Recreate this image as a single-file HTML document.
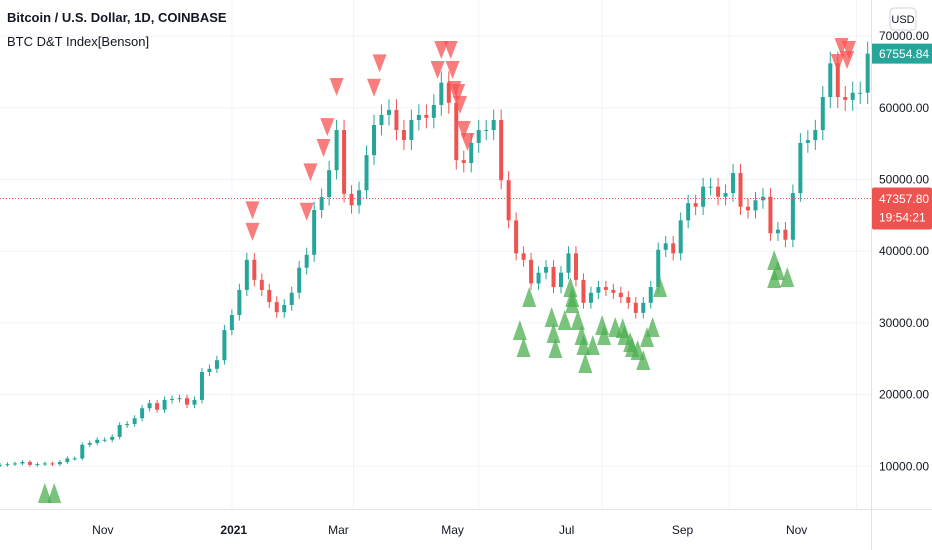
<!DOCTYPE html>
<html><head><meta charset="utf-8"><style>
html,body{margin:0;padding:0;background:#fff;}
svg{display:block;font-family:"Liberation Sans",sans-serif;}
</style></head><body>
<svg id="chart" width="932" height="550" viewBox="0 0 932 550" xmlns="http://www.w3.org/2000/svg">
<g id="grid"></g>
<g id="candles"></g>
<g id="signals"></g>
<g id="axes"></g>
<text x="7" y="22" font-size="13" font-weight="bold" fill="#131722">Bitcoin / U.S. Dollar, 1D, COINBASE</text>
<text x="7" y="46" font-size="13" fill="#131722">BTC D&amp;T Index[Benson]</text>
</svg>
<script>
const closes=[10200,10300,10400,10600,10200,10300,10400,10300,10600,11100,11100,13000,13250,13700,13700,14100,15750,15900,16700,18100,18800,17900,19250,19400,19500,18600,19250,23150,23600,24800,29000,31100,34600,38800,36000,34600,32900,31500,32500,34200,37700,39500,45750,47550,51300,56900,48000,46400,48500,53400,57600,59000,59700,56900,55500,58300,59000,58600,60400,63500,60700,52700,52300,55100,56900,56900,58300,49900,44300,39700,38800,35500,37000,37800,35000,37000,39700,36000,32800,34200,35000,34600,34200,33600,32800,31400,32800,35000,40200,41100,39700,44300,46700,46200,49000,49000,47600,48100,50900,46200,45700,47100,47600,42500,43000,41600,48100,55100,55500,56900,61500,66200,61500,61100,62100,62100,67554.84];
const sellDays=[135,135,164,166,173,175,180,200,203,236,241,234,242,243,245,246,248,250,450,454,448,453];
const sellPrices=[45700,42700,45500,51000,54400,57300,62900,62800,66200,68060,68060,65270,65270,62480,62060,60390,56900,55230,68480,68060,66250,66670];
const buyDays=[24,29,278,280,283,295,296,297,302,305,306,306,309,311,312,313,317,322,323,329,333,334,337,338,341,344,346,349,353,414,416,414,421];
const buyPrices=[6280,6280,29010,26640,33610,30820,28590,26500,30400,35010,33610,32780,30400,28310,26920,24410,26920,29710,28310,29430,29290,28310,27340,26640,26220,24820,28030,29430,35010,38770,37380,36260,36400];
const priceTicks=[70000,60000,50000,40000,30000,20000,10000];
const timeLabels=["Nov","2021","Mar","May","Jul","Sep","Nov"];
const timeLabelDays=[55,125,181,242,303,365,426];
const gridDays=[124,189,256,322,390,458];
const lastPrice=67554.84, markPrice=47357.80;

const NS="http://www.w3.org/2000/svg";
const DAY_PX=1.87, STEP=4;
const xOf=d=>d*DAY_PX;
const yOf=v=>538-v*0.00717;
function el(tag,attrs,parent){const e=document.createElementNS(NS,tag);for(const k in attrs)e.setAttribute(k,attrs[k]);parent.appendChild(e);return e;}
const grid=document.getElementById('grid'),cg=document.getElementById('candles'),sg=document.getElementById('signals'),ax=document.getElementById('axes');

priceTicks.forEach(v=>{const l=el('line',{x1:0,x2:871,y1:yOf(v),y2:yOf(v),stroke:'#f0f3fa','stroke-width':1},grid);

});
gridDays.forEach(d=>{const l=el('line',{x1:xOf(d),x2:xOf(d),y1:0,y2:509,stroke:'#f0f3fa','stroke-width':1},grid);

});

closes.forEach((c,i)=>{
  const o=i===0?c*0.99:closes[i-1];
  const up=c>=o, col=up?'#26a69a':'#ef5350';
  const x=xOf(i*STEP);
  const hi=Math.max(o,c)*1.025, lo=Math.min(o,c)*0.975;
  const w=el('line',{x1:x,x2:x,y1:yOf(hi),y2:yOf(lo),stroke:col,'stroke-width':1},cg);
  
  
  const top=yOf(Math.max(o,c)),h=Math.max(1,yOf(Math.min(o,c))-top);
  const b=el('rect',{x:x-2,y:top,width:4,height:h,fill:col},cg);
  
  
});

sellDays.forEach((d,i)=>{const x=xOf(d),y=yOf(sellPrices[i]);
  const p=el('polygon',{points:`${x-7},${y-9} ${x+7},${y-9} ${x},${y+9}`,fill:'rgba(247,82,82,0.75)'},sg);
  
  });
buyDays.forEach((d,i)=>{const x=xOf(d),y=yOf(buyPrices[i]);
  const p=el('polygon',{points:`${x-7},${y+10} ${x+7},${y+10} ${x},${y-10}`,fill:'rgba(76,175,80,0.75)'},sg);
  
  });

const ml=el('line',{x1:0,x2:871,y1:yOf(markPrice),y2:yOf(markPrice),stroke:'#ef5350','stroke-width':1,'stroke-dasharray':'1,2'},ax);



const bx=el('line',{x1:0,x2:932,y1:509.5,y2:509.5,stroke:'#e0e3eb','stroke-width':1},ax);


const rx=el('line',{x1:871.5,x2:871.5,y1:0,y2:550,stroke:'#e0e3eb','stroke-width':1},ax);



priceTicks.forEach(v=>{const t=el('text',{x:879,y:yOf(v)+4,'font-size':12,fill:'#131722'},ax);t.textContent=v.toFixed(2);

});
timeLabels.forEach((s,i)=>{const t=el('text',{x:xOf(timeLabelDays[i]),y:534,'font-size':12,fill:'#131722','text-anchor':'middle','font-weight':s==='2021'?'bold':'normal'},ax);t.textContent=s;

});

const ly=yOf(lastPrice);
const lr=el('rect',{x:872,y:ly-10,width:60,height:20,fill:'#26a69a'},ax);


const lt=el('text',{x:879,y:ly+4.5,'font-size':12,fill:'#fff'},ax);lt.textContent=lastPrice.toFixed(2);



const my=yOf(markPrice);
const mr=el('rect',{x:872,y:my-11,width:60,height:42,rx:2,fill:'#ef5350'},ax);


const mt=el('text',{x:879,y:my+4.5,'font-size':12,fill:'#fff'},ax);mt.textContent=markPrice.toFixed(2);


const ct=el('text',{x:879,y:my+23,'font-size':12,fill:'#fff'},ax);ct.textContent='19:54:21';



const ub=el('rect',{x:890,y:8,width:26,height:22,rx:4,fill:'#fff',stroke:'#d1d4dc'},ax);


const ut=el('text',{x:903,y:23,'font-size':11,fill:'#131722','text-anchor':'middle'},ax);ut.textContent='USD';


</script>
</body></html>
